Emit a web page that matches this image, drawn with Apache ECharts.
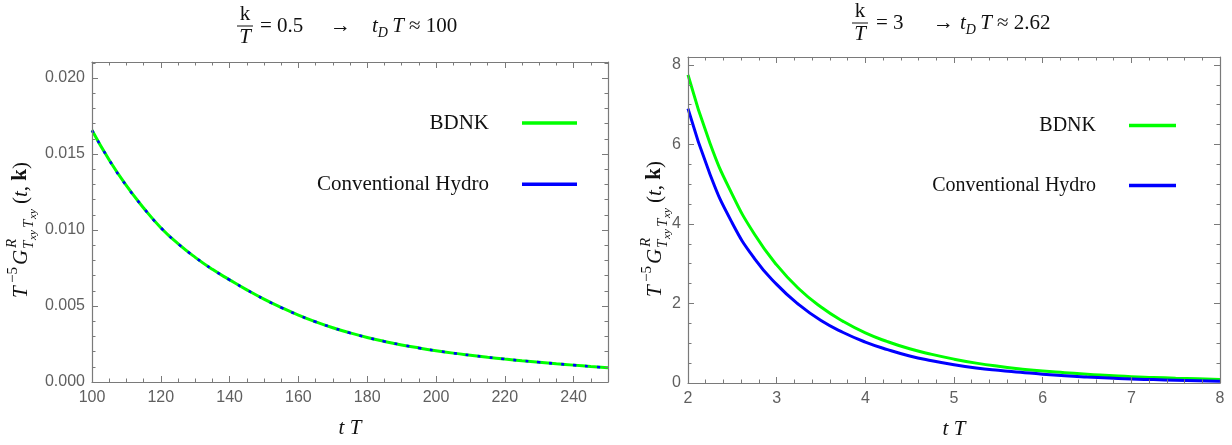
<!DOCTYPE html>
<html>
<head>
<meta charset="utf-8">
<script src="https://cdn.jsdelivr.net/npm/echarts@6/dist/echarts.min.js"></script>
<style>
  html, body { margin: 0; padding: 0; background: #ffffff; }
  #chart { width: 1232px; height: 445px; }
</style>
</head>
<body>
<div id="chart"></div>
<script>
// Retarded shear correlator T^-5 G^R(t, k) versus t T, two wave numbers.

// k/T = 0.5 panel
const tLow = [100, 105, 110, 115, 120, 125, 130, 135, 140, 145, 150, 155, 160, 165, 170, 175, 180, 185, 190, 195,
              200, 205, 210, 215, 220, 225, 230, 235, 240, 245, 250];
const bdnkLow = [0.01656, 0.01460, 0.01291, 0.01145, 0.01015, 0.00910, 0.00820, 0.00741, 0.00672, 0.00606, 0.00545,
                 0.00490, 0.00440, 0.00396, 0.00357, 0.00323, 0.00293, 0.00267, 0.00244, 0.00224, 0.00206,
                 0.00190, 0.00176, 0.00163, 0.00151, 0.00140, 0.00130, 0.00120, 0.00111, 0.00102, 0.00094];
const hydroLow = [0.01656, 0.01460, 0.01291, 0.01145, 0.01015, 0.00910, 0.00820, 0.00741, 0.00672, 0.00606, 0.00545,
                  0.00490, 0.00440, 0.00396, 0.00357, 0.00323, 0.00293, 0.00267, 0.00244, 0.00224, 0.00206,
                  0.00190, 0.00176, 0.00163, 0.00151, 0.00140, 0.00130, 0.00120, 0.00111, 0.00102, 0.00094];

// k/T = 3 panel
const tHigh = [2, 2.25, 2.5, 2.75, 3, 3.25, 3.5, 3.75, 4, 4.25, 4.5, 4.75, 5, 5.25, 5.5, 5.75, 6,
               6.25, 6.5, 6.75, 7, 7.25, 7.5, 7.75, 8];
const bdnkHigh = [7.75, 6.02, 4.74, 3.74, 2.97, 2.37, 1.91, 1.55, 1.26, 1.04, 0.86, 0.72, 0.60, 0.50, 0.42, 0.355, 0.30,
                  0.26, 0.22, 0.19, 0.16, 0.14, 0.12, 0.105, 0.09];
const hydroHigh = [6.90, 5.24, 4.02, 3.13, 2.48, 1.97, 1.57, 1.27, 1.03, 0.84, 0.68, 0.56, 0.46, 0.38, 0.32, 0.27, 0.22,
                   0.18, 0.15, 0.125, 0.10, 0.085, 0.07, 0.057, 0.045];

const seriesNames = ['BDNK', 'Conventional Hydro'];
const lowTitle = { ratio: '= 0.5', time: '≈ 100' };
const highTitle = { ratio: '= 3', time: '≈ 2.62' };
const xName = 't T';

const GREEN = '#00ff00';
const BLUE = '#0000ff';
const FRAME = '#7a7a7a';
const LABEL = '#5f5f5f';
const SERIF = 'Liberation Serif';
const SANS = 'Liberation Sans';

function pairs(xs, ys) { return xs.map((x, i) => [x, ys[i]]); }

function isMajor(v, step) {
  const r = v / step;
  return Math.abs(r - Math.round(r)) < 1e-6;
}

// Four axes per dimension: labelled major + minor on one side, mirrored major + minor on the opposite side.
function frameAxes(dim, grid, min, max, major, minor, fmt, extra) {
  const pos = dim === 'x' ? ['bottom', 'top'] : ['left', 'right'];
  const base = {
    type: 'value', gridIndex: grid, min: min, max: max,
    splitLine: { show: false },
    axisLabel: { show: false },
    axisLine: { show: false, onZero: false },
    z: 5
  };
  const majorTick = { show: true, inside: true, length: 6, lineStyle: { color: FRAME, width: 1 } };
  const minorTick = { show: true, inside: true, length: 3.5, lineStyle: { color: FRAME, width: 1 } };
  const line = { show: true, onZero: false, lineStyle: { color: FRAME, width: 1.2 } };
  const labelled = Object.assign({}, base, {
    position: pos[0], interval: major, axisLine: line, axisTick: majorTick,
    axisLabel: {
      show: true, color: LABEL, fontFamily: SANS, fontSize: 16, margin: dim === 'x' ? 8 : 7,
      formatter: v => isMajor(v, major) ? fmt(v) : ''
    }
  }, extra || {});
  return [
    labelled,
    Object.assign({}, base, { position: pos[0], interval: minor, axisTick: minorTick }),
    Object.assign({}, base, { position: pos[1], interval: major, axisLine: line, axisTick: majorTick }),
    Object.assign({}, base, { position: pos[1], interval: minor, axisTick: minorTick })
  ];
}

const xNameOpts = {
  name: xName, nameLocation: 'middle', nameGap: 36,
  nameTextStyle: { fontFamily: SERIF, fontStyle: 'italic', fontSize: 21, color: '#111' }
};

const xAxes = [].concat(
  frameAxes('x', 0, 100, 250, 20, 5, v => String(v), xNameOpts),
  frameAxes('x', 1, 2, 8, 1, 0.2, v => String(v), xNameOpts)
);
const yAxes = [].concat(
  frameAxes('y', 0, 0, 0.02105, 0.005, 0.001, v => v.toFixed(3)),
  frameAxes('y', 1, 0, 8.2, 2, 0.5, v => String(v))
);

function lineSeries(name, data, color, xi, yi, dash, width, z) {
  return {
    type: 'line', name: name, data: data, xAxisIndex: xi, yAxisIndex: yi,
    showSymbol: false, symbol: 'none', smooth: 0.5, clip: true, z: z,
    lineStyle: { color: color, width: width, type: dash || 'solid', cap: 'butt' },
    itemStyle: { color: color }
  };
}

// Stacked fraction k / T followed by the damping-time estimate
function titleGraphic(cx, barHalf, yMid, ratio, arrowX, ratioX, timeX, time) {
  const s = { fontFamily: SERIF, fontSize: 21, fill: '#111' };
  return [
    { type: 'text', x: cx, y: yMid - 12, style: Object.assign({}, s, { text: 'k', align: 'center', verticalAlign: 'middle' }) },
    { type: 'rect', shape: { x: cx - barHalf, y: yMid - 0.5, width: barHalf * 2, height: 1 }, style: { fill: '#111' } },
    { type: 'text', x: cx, y: yMid + 11, style: Object.assign({}, s, { text: 'T', fontStyle: 'italic', align: 'center', verticalAlign: 'middle' }) },
    { type: 'text', x: ratioX, y: yMid, style: Object.assign({}, s, { text: ratio, align: 'left', verticalAlign: 'middle' }) },
    { type: 'text', x: arrowX, y: yMid, style: Object.assign({}, s, { text: '→', align: 'left', verticalAlign: 'middle' }) },
    {
      type: 'text', x: timeX, y: yMid,
      style: {
        text: '{i|t}{s|D}{i|\u2009T}{n|\u2005' + time + '}',
        align: 'left', verticalAlign: 'middle', fill: '#111',
        rich: {
          i: { fontFamily: SERIF, fontStyle: 'italic', fontSize: 21, lineHeight: 28 },
          s: { fontFamily: SERIF, fontStyle: 'italic', fontSize: 14, lineHeight: 16, verticalAlign: 'bottom' },
          n: { fontFamily: SERIF, fontSize: 21, lineHeight: 28 }
        }
      }
    }
  ];
}

// Rotated axis title T^-5 G^R_{Txy Txy}(t, k)
function yTitleGraphic(x0, y0) {
  const it = (text, x, y, size) => ({
    type: 'text', x: x, y: y,
    style: { text: text, fontFamily: SERIF, fontStyle: 'italic', fontSize: size, fill: '#111', align: 'left', verticalAlign: 'middle' }
  });
  const up = (text, x, y, size) => ({
    type: 'text', x: x, y: y,
    style: { text: text, fontFamily: SERIF, fontSize: size, fill: '#111', align: 'left', verticalAlign: 'middle' }
  });
  return {
    type: 'group', x: x0, y: y0, rotation: Math.PI / 2,
    children: [
      it('T', 0, -7, 21),
      up('−5', 15, -15, 15),
      it('G', 33, -7, 21),
      it('R', 50, -16, 15),
      it('T', 49, 1, 15),
      it('xy', 58, 5, 11),
      it('T', 70, 1, 15),
      it('xy', 79, 5, 11),
      {
        type: 'text', x: 94, y: -7,
        style: {
          text: '{n|(}{i|t}{n|, }{b|k}{n|)}', align: 'left', verticalAlign: 'middle', fill: '#111',
          rich: {
            n: { fontFamily: SERIF, fontSize: 21 },
            i: { fontFamily: SERIF, fontSize: 21, fontStyle: 'italic' },
            b: { fontFamily: SERIF, fontSize: 21, fontWeight: 'bold' }
          }
        }
      }
    ]
  };
}

function legendAt(right, top, size, width, gap) {
  return {
    orient: 'vertical', align: 'right', right: right, top: top, padding: 0,
    data: seriesNames, icon: 'rect', itemWidth: width, itemHeight: 3.5, itemGap: gap,
    selectedMode: false,
    itemStyle: { borderWidth: 0 },
    textStyle: { fontFamily: SERIF, fontSize: size, color: '#111', lineHeight: 22, padding: [0, 28, 0, 0] }
  };
}

const chart = echarts.init(document.getElementById('chart'), null, { renderer: 'canvas' });
chart.setOption({
  backgroundColor: '#ffffff',
  animation: false,
  textStyle: { fontFamily: SERIF },
  grid: [
    { left: 92, right: 624, top: 62, bottom: 63, containLabel: false },
    { left: 688, right: 12, top: 57, bottom: 60, containLabel: false }
  ],
  xAxis: xAxes,
  yAxis: yAxes,
  legend: [
    legendAt(655, 112, 21, 55, 39.3),
    legendAt(56, 114.5, 20, 47, 38)
  ],
  series: [
    lineSeries(seriesNames[0], pairs(tLow, bdnkLow), GREEN, 0, 0, 'solid', 3, 2),
    lineSeries(seriesNames[1], pairs(tLow, hydroLow), BLUE, 0, 0, [3, 9], 2.6, 3),
    lineSeries(seriesNames[0], pairs(tHigh, bdnkHigh), GREEN, 4, 4, 'solid', 3, 2),
    lineSeries(seriesNames[1], pairs(tHigh, hydroHigh), BLUE, 4, 4, 'solid', 3, 3)
  ],
  graphic: [].concat(
    titleGraphic(245, 8, 26, lowTitle.ratio, 330, 260, 372, lowTitle.time),
    titleGraphic(860, 8, 23, highTitle.ratio, 933, 876, 960, highTitle.time),
    [yTitleGraphic(28, 298), yTitleGraphic(662, 297)]
  )
});
</script>
</body>
</html>
